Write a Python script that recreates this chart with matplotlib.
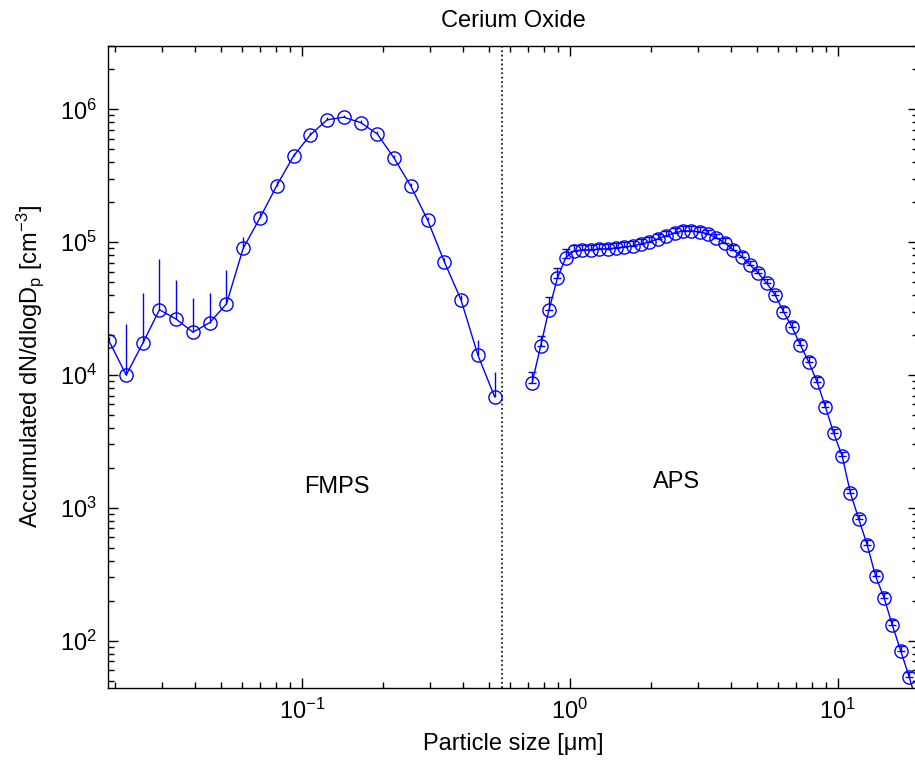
import numpy as np
import matplotlib
matplotlib.use('Agg')
import matplotlib.pyplot as plt
from matplotlib.ticker import LogLocator, NullFormatter, LogFormatterSciNotation

plt.rcParams['font.family'] = ['Liberation Sans', 'DejaVu Sans']
plt.rcParams['mathtext.fontset'] = 'custom'
plt.rcParams['mathtext.rm'] = 'Liberation Sans'
plt.rcParams['mathtext.it'] = 'Liberation Sans:italic'
plt.rcParams['mathtext.bf'] = 'Liberation Sans:bold'

# FMPS channels (um), number concentration, upper error
fmps_d = [0.0191, 0.0221, 0.0255, 0.0294, 0.0340, 0.0392, 0.0453, 0.0523,
          0.0604, 0.0698, 0.0806, 0.0931, 0.1075, 0.1241, 0.1433, 0.1655,
          0.1911, 0.2207, 0.2548, 0.2943, 0.3398, 0.3924, 0.4532, 0.5233]
fmps_n = [17900, 10000, 17400, 31000, 26300, 21000, 24800, 34300,
          90100, 153000, 267000, 446000, 643000, 834000, 873000, 796000,
          653000, 430000, 265000, 147000, 71400, 36800, 14200, 6880]
fmps_err = [1500, 14200, 24400, 43500, 25700, 16800, 17000, 27500,
            20000, 15000, 20000, 25000, 30000, 35000, 35000, 35000,
            30000, 25000, 15000, 9000, 5000, 3000, 4200, 3700]

# APS channels (um)
aps_d = [0.723, 0.777, 0.835, 0.898, 0.965, 1.037, 1.114, 1.197, 1.286, 1.382,
         1.486, 1.596, 1.715, 1.843, 1.981, 2.129, 2.288, 2.458, 2.642, 2.839,
         3.051, 3.278, 3.523, 3.786, 4.068, 4.371, 4.698, 5.048, 5.425, 5.829,
         6.264, 6.732, 7.234, 7.774, 8.354, 8.977, 9.647, 10.37, 11.14, 11.97,
         12.86, 13.82, 14.86, 15.96, 17.15, 18.43, 19.81]
aps_n = [8770, 16400, 30900, 53500, 76600, 85900, 87500, 87500, 89100, 89100,
         90600, 92200, 93800, 97100, 100500, 105900, 111500, 117400, 121600, 121600,
         119600, 115400, 107600, 98800, 87500, 78000, 67500, 58400, 49100, 40100,
         30000, 23100, 16900, 12600, 8920, 5780, 3650, 2460, 1290, 820,
         526, 307, 211, 131, 84, 53.6, 33]
aps_err = [1800, 3100, 8000, 10000, 12000, 9000, 8000, 8000, 8000, 8000,
           8000, 8000, 8000, 8000, 8500, 9000, 9000, 9500, 10000, 10000,
           9500, 9000, 8500, 8000, 7000, 6000, 5000, 4500, 3800, 3000,
           2300, 1800, 1300, 1000, 700, 450, 290, 190, 100, 65,
           42, 25, 17, 11, 7, 4.5, 3]

boundary = 0.557

fig = plt.figure(figsize=(9.15, 7.7), dpi=100, facecolor='white')
ax = fig.add_axes([108/915, 1-688/770, 810/915, 642/770])

blue = (0, 0, 1)
ax.errorbar(fmps_d, fmps_n, yerr=[np.zeros(len(fmps_err)), fmps_err],
            fmt='-o', color=blue, mfc='none', mec=blue, ms=9.5, mew=1,
            lw=1, elinewidth=1, capsize=0)
ax.errorbar(aps_d, aps_n, yerr=[np.zeros(len(aps_err)), aps_err],
            fmt='-o', color=blue, mfc='none', mec=blue, ms=9.5, mew=1,
            lw=1, elinewidth=1, capsize=3)

ax.axvline(boundary, color='black', ls=':', lw=1.2)

ax.set_xscale('log')
ax.set_yscale('log')
ax.set_xlim(0.0189, 19.9)
ax.set_ylim(44, 3.0e6)

ax.xaxis.set_major_locator(LogLocator(base=10, numticks=10))
ax.yaxis.set_major_locator(LogLocator(base=10, numticks=10))
ax.xaxis.set_minor_locator(LogLocator(base=10, subs=range(2, 10), numticks=20))
ax.yaxis.set_minor_locator(LogLocator(base=10, subs=range(2, 10), numticks=20))
ax.xaxis.set_major_formatter(LogFormatterSciNotation())
ax.yaxis.set_major_formatter(LogFormatterSciNotation())
ax.xaxis.set_minor_formatter(NullFormatter())
ax.yaxis.set_minor_formatter(NullFormatter())

ax.tick_params(which='both', direction='in', top=True, right=True, labelsize=17)
ax.tick_params(which='major', length=7, width=1, pad=8)
ax.tick_params(which='minor', length=4, width=1)
for sp in ax.spines.values():
    sp.set_linewidth(1)
# right edge of the axes falls outside the picture
ax.spines['right'].set_visible(False)

ax.text(0.135, 1435, 'FMPS', fontsize=17, ha='center', va='center')
ax.text(2.5, 1570, 'APS', fontsize=17, ha='center', va='center')

ax.set_title('Cerium Oxide', fontsize=17, pad=14)
ax.set_xlabel('Particle size [\u03bcm]', fontsize=17, labelpad=6)
ax.set_ylabel(r'Accumulated dN/dlogD$_\mathregular{p}$ [cm$^{\mathregular{-3}}$]',
              fontsize=17, labelpad=10)

fig.savefig('out.png', dpi=100, facecolor='white')
